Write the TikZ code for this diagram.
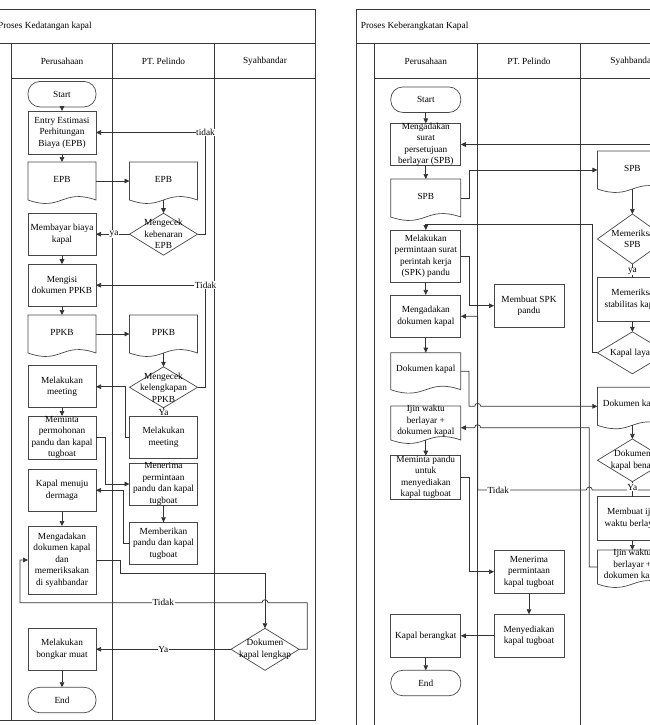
\documentclass[tikz,border=0pt]{standalone}
\usepackage{fontspec}
\setmainfont{Liberation Serif}
\usetikzlibrary{arrows.meta}
\newcommand\fs{\fontsize{9.3}{11.5}\selectfont}
\def\bw{68}
% box with text
\newcommand\boxn[5]{\node[boxbase, minimum height=#4, label={[txt]center:{#5}}] (#1) at (#2,#3) {};}
% document shape: name, x, ytop, h, text
\newcommand\docn[5]{%
 \path[shp] (#2-\bw/2,#3+#4) -- (#2-\bw/2,#3) -- (#2+\bw/2,#3) -- (#2+\bw/2,#3+#4)
   .. controls (#2,#3+#4-12) and (#2,#3+#4+12) .. (#2-\bw/2,#3+#4) -- cycle;
 \node[inner sep=0pt, outer sep=0pt, minimum width=\bw, minimum height=#4,
   label={[txt,yshift=2pt]center:{#5}}] (#1) at (#2,#3+#4/2) {};}
% decision: name, x, y, h, text
\newcommand\dian[5]{%
 \path[shp] (#2,#3-#4/2) -- (#2+\bw/2,#3) -- (#2,#3+#4/2) -- (#2-\bw/2,#3) -- cycle;
 \node[inner sep=0pt, outer sep=0pt, minimum width=\bw, minimum height=#4,
   label={[txt]center:{#5}}] (#1) at (#2,#3) {};}
\begin{document}
\begin{tikzpicture}[x=1pt,y=-1pt,
  ln/.style={draw=black!80, line width=0.7pt},
  arr/.style={ln, -{Triangle[length=5pt,width=4.6pt]}},
  shp/.style={draw=black!72, line width=0.7pt, fill=white},
  frm/.style={draw=black!78, line width=0.8pt},
  txt/.style={font=\fs, align=center, inner sep=0pt},
  boxbase/.style={shp, inner sep=0pt, outer sep=0pt, minimum width=\bw},
  term/.style={shp, rounded corners=12pt, inner sep=0pt, outer sep=0pt, minimum width=\bw, minimum height=25.5, font=\fs},
  lbl/.style={font=\fs, fill=white, inner sep=0.6pt},
  hdr/.style={font=\fs, inner sep=0pt}
]
\useasboundingbox (0,0) rectangle (650,725);
\fill[white] (0,0) rectangle (650,725);
\clip (0,0) rectangle (650,725);

%================ LEFT: Proses Kedatangan kapal ================
\def\bw{68}
\draw[frm] (-5.9,9.5) rectangle (315.7,720.7);
\draw[frm] (-5.9,43.3) -- (315.7,43.3);
\draw[frm] (11.7,78) -- (315.7,78);
\draw[frm] (11.7,43.3) -- (11.7,720.7);
\draw[frm] (112.7,43.3) -- (112.7,720.7);
\draw[frm] (214,43.3) -- (214,720.7);
\node[hdr, anchor=west] (t1) at (-2,26.7) {Proses Kedatangan kapal};
\node[hdr] (h1a) at (62,61) {Perusahaan};
\node[hdr] (h1b) at (163.5,61) {PT. Pelindo};
\node[hdr] (h1c) at (265,61) {Syahbandar};

\node[term] (st1) at (62,94.2) {Start};
\boxn{ee}{62}{132.5}{43}{Entry Estimasi\\Perhitungan\\Biaya (EPB)}
\docn{epb1}{62}{162}{38}{EPB}
\docn{epb2}{163.5}{162}{38}{EPB}
\boxn{mb}{62}{234.2}{42}{Membayar biaya\\kapal}
\dian{mkb}{163.5}{234.2}{42}{Mengecek\\kebenaran\\EPB}
\boxn{mi}{62}{285.2}{42}{Mengisi\\dokumen PPKB}
\docn{pp1}{62}{315}{38}{PPKB}
\docn{pp2}{163.5}{315}{38}{PPKB}
\dian{mkl}{163.5}{387.3}{41}{Mengecek\\kelengkapan\\PPKB}
\boxn{ml}{62}{386.7}{42}{Melakukan\\meeting}
\boxn{mmp}{163.5}{437.5}{42}{Melakukan\\meeting}
\boxn{mpp}{62}{437.5}{43}{Meminta\\permohonan\\pandu dan kapal\\tugboat}
\boxn{mrp}{163.5}{484}{42}{Menerima\\permintaan\\pandu dan kapal\\tugboat}
\boxn{kmd}{62}{490.3}{42.7}{Kapal menuju\\dermaga}
\boxn{mbp}{163.5}{543.3}{42}{Memberikan\\pandu dan kapal\\tugboat}
\boxn{mdk1}{62}{560}{68}{Mengadakan\\dokumen kapal\\dan\\memeriksakan\\di syahbandar}
\dian{dd}{265}{649.3}{42}{Dokumen\\kapal lengkap}
\boxn{bm}{62}{649.3}{42.7}{Melakukan\\bongkar muat}
\node[term] (end1) at (62,700) {End};

\draw[arr] (st1) -- (ee);
\draw[arr] (ee) -- (epb1);
\draw[arr] (epb1.east) -- (epb2.west);
\draw[arr] (epb2) -- (mkb);
\draw[arr] (mkb.west) -- (mb.east);
\draw[arr] (mkb.east) -- ++(8,0) |- (ee.east);
\draw[arr] (mb) -- (mi);
\draw[arr] (mkl.east) -- ++(8,0) |- (mi.east);
\draw[arr] (mi) -- (pp1);
\draw[arr] (pp1.east) -- (pp2.west);
\draw[arr] (pp2) -- (mkl);
\draw[ln] (mkl) -- (mmp);
\draw[arr] (mmp.west) -- ++(-4.3,0) |- (ml.east);
\draw[arr] (ml) -- (mpp);
\draw[arr] (mpp.east) -- ++(9,0) |- (mrp.west);
\draw[arr] (mrp) -- (mbp);
\draw[arr] (mbp.west) -- ++(-6.6,0) |- (kmd.east);
\draw[arr] (kmd) -- (mdk1);
\draw[arr] (mdk1.east) -- ++(24.7,0) -- ++(0,13.3) -| (dd.north);
\draw[arr] (dd.east) -- ++(8.3,0) |- (268,602.7) arc[start angle=0,end angle=-180,radius=3] -- (20,602.7) |- (mdk1.west);
\draw[arr] (dd.west) -- (bm.east);
\draw[arr] (bm) -- (end1);

\node[lbl] (l1) at (114,234.2) {ya};
\node[lbl] (l2) at (205.5,132.5) {tidak};
\node[lbl] (l3) at (205.5,285.2) {Tidak};
\node[lbl] (l4) at (163.5,412.3) {Ya};
\node[lbl] (l5) at (163.3,602.7) {Tidak};
\node[lbl] (l6) at (163.3,649.3) {Ya};

%================ RIGHT: Proses Keberangkatan Kapal ================
\def\bw{70}
\draw[frm] (356.7,735) -- (356.7,9.3) -- (684,9.3) -- (684,735);
\draw[frm] (356.7,43.3) -- (684,43.3);
\draw[frm] (374.3,78) -- (684,78);
\draw[frm] (374.3,43.3) -- (374.3,735);
\draw[frm] (477.7,43.3) -- (477.7,735);
\draw[frm] (580.7,43.3) -- (580.7,735);
\node[hdr, anchor=west] (t2) at (360.7,26.7) {Proses Keberangkatan Kapal};
\node[hdr] (h2a) at (425.8,61) {Perusahaan};
\node[hdr] (h2b) at (529,61) {PT. Pelindo};
\node[hdr] (h2c) at (632.4,61) {Syahbandar};

\node[term] (st2) at (425.8,99.7) {Start};
\boxn{ms}{425.8}{144.5}{42.4}{Mengadakan\\surat\\persetujuan\\berlayar (SPB)}
\docn{spb1}{425.8}{179}{38}{SPB}
\docn{spb2}{632.4}{151}{38}{SPB}
\dian{msp}{632.4}{239}{50}{Memeriksa\\SPB}
\boxn{mp}{425.8}{256.2}{52.3}{Melakukan\\permintaan surat\\perintah kerja\\(SPK) pandu}
\boxn{mst}{632.4}{299.3}{43.3}{Memeriksa\\stabilitas kapal}
\boxn{spk}{529}{305.7}{43.3}{Membuat SPK\\pandu}
\boxn{mdk}{425.8}{316.3}{42.7}{Mengadakan\\dokumen kapal}
\dian{kl}{632.4}{352.8}{42}{Kapal layak}
\docn{dk1}{425.8}{352.7}{37}{Dokumen kapal}
\docn{dk2}{632.4}{387.3}{38}{Dokumen kapal}
\docn{ij1}{425.8}{406}{34}{Ijin waktu\\berlayar +\\dokumen kapal}
\dian{dkb}{632.4}{460.3}{42.7}{Dokumen\\kapal benar}
\boxn{mpu}{425.8}{477.3}{43.3}{Meminta pandu\\untuk\\menyediakan\\kapal tugboat}
\boxn{mij}{632.4}{518.3}{43.3}{Membuat ijin\\waktu berlayar}
\docn{ij2}{632.4}{550}{34}{Ijin waktu\\berlayar +\\dokumen kapal}
\boxn{mpk}{529}{571.7}{43.3}{Menerima\\permintaan\\kapal tugboat}
\boxn{mkt}{529}{635.8}{43}{Menyediakan\\kapal tugboat}
\boxn{kb}{425.8}{635.8}{43}{Kapal berangkat}
\node[term] (end2) at (425.8,683) {End};

\draw[arr] (st2) -- (ms);
\draw[arr] (ms) -- (spb1);
\draw[arr] (spb1.east) -- ++(8.2,0) |- (spb2.west);
\draw[arr] (spb2) -- (msp);
\draw[ln] (msp) -- (mst);
\draw[arr] (mst) -- (kl);
\draw[arr] (kl.west) -- ++(-4.7,0) |- (425.8,224.5) -- (mp.north);
\draw[arr] (msp.east) -- ++(10,0) |- (ms.east);
\draw[arr] (mp.east) -- ++(8.2,0) |- (spk.west);
\draw[arr] (mp) -- (mdk);
\draw[arr] (mdk) -- (dk1);
\draw[arr] (dk1.east) -- ++(8.2,0) |- (474.7,406.3) arc[start angle=180,end angle=360,radius=3] -- (dk2.west);
\draw[arr] (dk2) -- (dkb);
\draw[ln] (dkb) -- (mij);
\draw[arr] (mij) -- (ij2);
\draw[arr] (ij2.west) -- ++(-8.1,0) |- (480.7,427.7) arc[start angle=0,end angle=-180,radius=3] -- ([yshift=-4.7pt]ij1.east);
\draw[arr] (ij1) -- (mpu);
\draw[arr] (dkb.east) -- ++(10,0) |- (592.3,490) arc[start angle=0,end angle=-180,radius=3] -- (477.7,490) |- (mdk.east);
\draw[arr] (mpu.east) -- ++(8.2,0) |- (mpk.west);
\draw[arr] (mpk) -- (mkt);
\draw[arr] (mkt) -- (kb);
\draw[arr] (kb) -- (end2);

\node[lbl] (l7) at (632.4,271.5) {ya};
\node[lbl] (l8) at (632.4,487) {Ya};
\node[lbl] (l9) at (498.3,490) {Tidak};
\end{tikzpicture}
\end{document}
